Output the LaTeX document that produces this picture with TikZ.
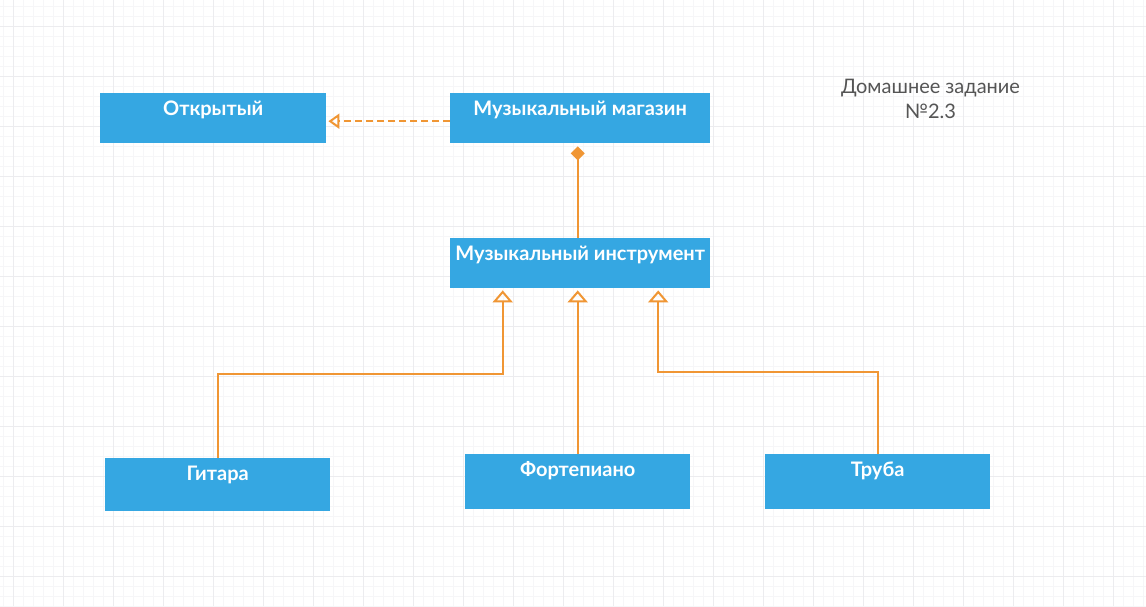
\documentclass[tikz,border=0pt]{standalone}
\usepackage{fontspec}
\setmainfont{Lato}
\usetikzlibrary{arrows.meta,calc}
\definecolor{boxblue}{RGB}{53,167,226}
\definecolor{conorange}{RGB}{240,150,52}
\definecolor{titlegray}{RGB}{85,85,85}
\definecolor{gridminor}{RGB}{246,246,248}
\definecolor{gridmajor}{RGB}{236,236,239}
\tikzset{
  umlbox/.style={rectangle, fill=boxblue, draw=none, inner sep=0pt, anchor=north west},
  boxtext/.style={anchor=base, text=white, font=\fontsize{20}{24}\selectfont\bfseries, inner sep=0pt},
  conn/.style={draw=conorange, line width=2pt},
  inherit/.style={conn, -{Triangle[open, width=20pt, length=12pt, line width=2pt]}},
  realize/.style={conn, dash pattern=on 7pt off 4pt, -{Triangle[open, width=15pt, length=11pt, line width=2pt]}},
  compose/.style={conn, -{Diamond[width=14pt, length=14pt]}},
}
\begin{document}
\begin{tikzpicture}[x=1pt, y=-1pt]
\useasboundingbox (0,0) rectangle (1146,606);
\fill[white] (0,0) rectangle (1146,606);
% grid
\foreach \x in {3,13,...,1146} \draw[gridminor, line width=0.8pt] (\x,0) -- (\x,606);
\foreach \y in {6,16,...,606} \draw[gridminor, line width=0.8pt] (0,\y) -- (1146,\y);
\foreach \x in {13,63,...,1146} \draw[gridmajor, line width=0.8pt] (\x,0) -- (\x,606);
\foreach \y in {26,76,...,606} \draw[gridmajor, line width=0.8pt] (0,\y) -- (1146,\y);

% boxes
\node[umlbox, minimum width=226pt, minimum height=50pt] (otk) at (100,93) {};
\node[umlbox, minimum width=260pt, minimum height=50pt] (mag) at (450,93) {};
\node[umlbox, minimum width=260pt, minimum height=50pt] (inst) at (450,238) {};
\node[umlbox, minimum width=225pt, minimum height=53pt] (git) at (105,458) {};
\node[umlbox, minimum width=225pt, minimum height=55pt] (fort) at (465,454) {};
\node[umlbox, minimum width=225pt, minimum height=55pt] (trub) at (765,454) {};

% box texts
\node[boxtext] (otkt) at ($(otk.north)+(0,22)$) {Открытый};
\node[boxtext] (magt) at ($(mag.north)+(0,22)$) {Музыкальный магазин};
\node[boxtext] (instt) at ($(inst.north)+(0,22)$) {Музыкальный инструмент};
\node[boxtext] (gitt) at ($(git.north)+(0,22)$) {Гитара};
\node[boxtext] (fortt) at ($(fort.north)+(0,22)$) {Фортепиано};
\node[boxtext] (trubt) at ($(trub.north)+(0,22)$) {Труба};

% title
\node[text=titlegray, font=\fontsize{20}{25.5}\selectfont, align=center, anchor=base, inner sep=0pt] (title) at (930.5,118.5) {Домашнее задание\\№2.3};

% connectors
\coordinate (magleft) at ($(mag.west)+(0,3)$);
\coordinate (otkright) at ($(otk.east)+(2,3)$);
\draw[realize] (magleft) -- (otkright);

\coordinate (diamtip) at ($(mag.south)+(-2.5,3)$);
\draw[compose] (inst.north -| diamtip) -- (diamtip);

\coordinate (instL) at ($(inst.south)+(-77.5,2)$);
\coordinate (instM) at ($(inst.south)+(-2.5,2)$);
\coordinate (instR) at ($(inst.south)+(78,2)$);
\draw[inherit] (git.north) -- ++(0,-84) -| (instL);
\draw[inherit] (fort.north) -- (instM);
\draw[inherit] (trub.north) -- ++(0,-82) -| (instR);
\end{tikzpicture}
\end{document}
